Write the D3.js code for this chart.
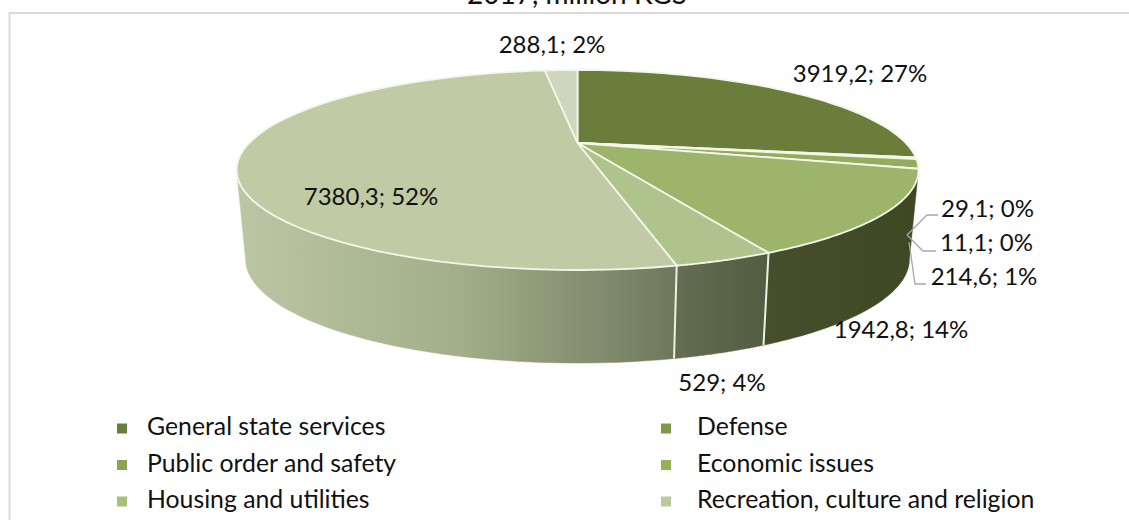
<!DOCTYPE html>
<html><head><meta charset="utf-8">
<script src="https://cdn.jsdelivr.net/npm/d3@7"></script>
<style>
html,body{margin:0;padding:0;background:#fff}
svg{display:block}
text{font-family:Lato,"Open Sans",sans-serif;fill:#111}
</style></head><body>
<svg id="chart" width="1129" height="520"></svg>
<script>
const titleText = "2017, million KGS";
const sliceValues = [3919.2, 29.1, 11.1, 214.6, 1942.8, 529, 7380.3, 288.1];
const valueLabels = ["3919,2; 27%", "29,1; 0%", "11,1; 0%", "214,6; 1%", "1942,8; 14%", "529; 4%", "7380,3; 52%", "288,1; 2%"];
const legendNames = ["General state services", "Defense", "Public order and safety", "Economic issues", "Housing and utilities", "Recreation, culture and religion"];
const topColors = ["#6a7d3a", "#7f9a46", "#8ba550", "#93ad5c", "#9db56b", "#afc38d", "#c0cba6", "#ced7bd"];
const legendColors = ["#6a7d3a", "#7f9a46", "#8ba550", "#93b356", "#a6c175", "#bccb9b"];
const wallStops = [
  ["#3f4a24", "#3f4a24"], ["#3f4a24", "#3f4a24"], ["#3f4a24", "#3f4a24"], ["#3f4a24", "#3f4a24"],
  ["#464f2c", "#3e4823"], ["#646e53", "#515c40"], ["#70795d", "#bcc6a4"], ["#bcc6a4", "#bcc6a4"]
];

const svg = d3.select("#chart");
const defs = svg.append("defs");

// Camera model: the disc is a unit circle seen through a projective tilt.
const tilt = 0.27;
const topFace = {x0: 577.5, y0: 143, a: 92.7, b: 328.3};
const baseFace = {x0: 577.5, y0: 231, a: 96.4, b: 319.6};

function project(face, t) {
  const u = Math.sin(t), v = -Math.cos(t), d = 1 - tilt * v;
  return [face.x0 + face.b * u / d, face.y0 + face.a * v / d];
}

const arcs = d3.pie().sort(null)(sliceValues);
const sweep = (a0, a1) => d3.range(0, 61).map(i => d3.interpolateNumber(a0, a1)(i / 60));
const line = d3.line();

// Angles where the rim reaches its left and right silhouette
const rightEdge = Math.PI - Math.acos(tilt);
const leftEdge = Math.PI + Math.acos(tilt);

// Chart frame
svg.append("path").attr("d", "M9.5,520V13H1129").attr("fill", "none").attr("stroke", "#d9d9d9").attr("stroke-width", 2);

// Title, partly above the frame
svg.append("text").attr("x", 577).attr("y", 4).attr("text-anchor", "middle").attr("font-size", 28).text(titleText);

// Side wall, drawn first so the top face covers its hidden part
const walls = svg.append("g");
arcs.forEach((d, i) => {
  const id = "wall" + i;
  const a0 = Math.max(d.startAngle, rightEdge), a1 = Math.min(d.endAngle, leftEdge);
  if (a1 <= a0) return;
  const ts = sweep(a0, a1);
  const pts = ts.map(t => project(topFace, t)).concat(ts.slice().reverse().map(t => project(baseFace, t)));
  const xs = d3.extent(pts, p => p[0]);
  const g = defs.append("linearGradient").attr("id", id).attr("gradientUnits", "userSpaceOnUse")
    .attr("x1", xs[1]).attr("x2", xs[0]).attr("y1", 0).attr("y2", 0);
  if (i === 6) {
    g.append("stop").attr("offset", 0).attr("stop-color", "#6e775b");
    g.append("stop").attr("offset", 0.2).attr("stop-color", "#858f70");
    g.append("stop").attr("offset", 0.5).attr("stop-color", "#a3ae8a");
    g.append("stop").attr("offset", 1).attr("stop-color", "#bcc6a4");
  } else {
    g.append("stop").attr("offset", 0).attr("stop-color", wallStops[i][1]);
    g.append("stop").attr("offset", 1).attr("stop-color", wallStops[i][0]);
  }
  walls.append("path").attr("d", line(pts) + "Z").attr("fill", `url(#${id})`).attr("stroke", `url(#${id})`).attr("stroke-width", 0.5);
});

// Dividers between the visible wall sections
arcs.slice(4, 6).forEach(d => {
  const t = d.endAngle;
  walls.append("path").attr("d", line([project(topFace, t), project(baseFace, t)]))
    .attr("stroke", "#eef1e2").attr("stroke-width", 2).attr("fill", "none");
});

// Top face wedges
const wedges = svg.append("g");
arcs.forEach((d, i) => {
  const pts = [[topFace.x0, topFace.y0]].concat(sweep(d.startAngle, d.endAngle).map(t => project(topFace, t)));
  wedges.append("path").attr("d", line(pts) + "Z").attr("fill", topColors[i])
    .attr("stroke", "#f4f6ea").attr("stroke-width", 1.8).attr("stroke-linejoin", "round");
});

// Data labels
const labelAt = [[860, 82], [987.5, 217], [986.5, 251], [984, 285], [901, 338], [722, 391], [371, 205], [552, 53]];
svg.append("g").selectAll("text").data(valueLabels).join("text")
  .attr("x", (d, i) => labelAt[i][0]).attr("y", (d, i) => labelAt[i][1])
  .attr("text-anchor", "middle").attr("font-size", 24).text(d => d);

// Leader lines of the three narrow slices
const leaders = [
  [[907, 235], [927, 215], [938, 215]],
  [[907, 235], [923, 251], [936, 251]],
  [[909, 242], [915, 284], [926, 284]]
];
svg.append("g").selectAll("path").data(leaders).join("path")
  .attr("d", d => line(d)).attr("fill", "none").attr("stroke", "#a6a6a6").attr("stroke-width", 1.3);

// Legend in two columns
const colX = d3.scaleOrdinal().domain([0, 1]).range([117, 661]);
const rowY = d3.scalePoint().domain([0, 1, 2]).range([428.5, 501.5]);
const legend = svg.append("g").selectAll("g").data(legendNames).join("g")
  .attr("transform", (d, i) => `translate(${colX(i % 2)},${rowY(Math.floor(i / 2))})`);
legend.append("rect").attr("x", 0).attr("y", -5).attr("width", 10).attr("height", 10).attr("fill", (d, i) => legendColors[i]);
legend.append("text").attr("x", (d, i) => i % 2 ? 36 : 30).attr("y", 6.5).attr("font-size", 24.8).text(d => d);
</script>
</body></html>
